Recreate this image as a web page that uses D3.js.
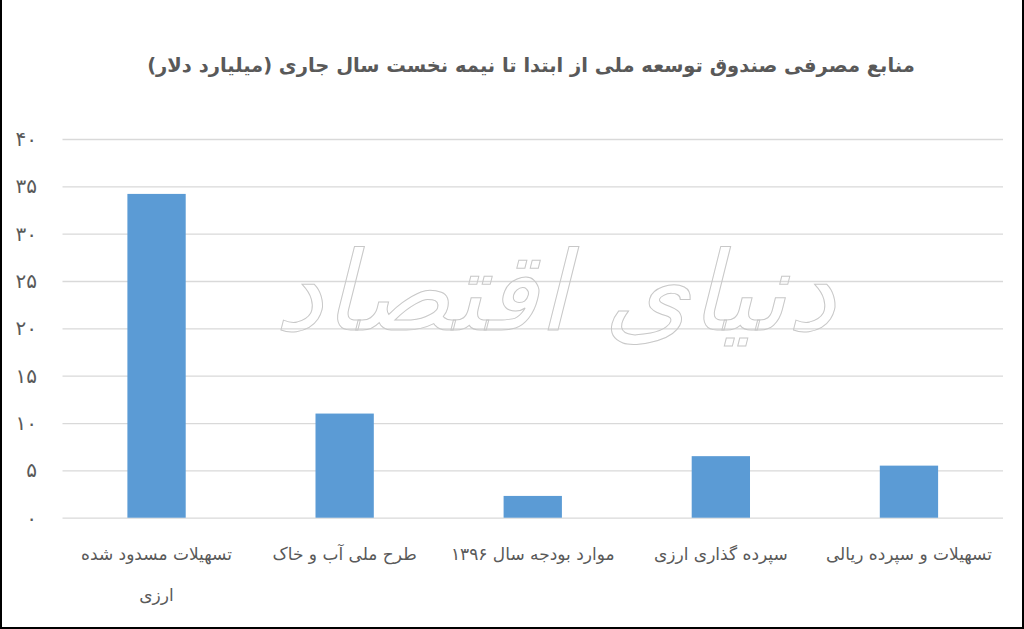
<!DOCTYPE html>
<html>
<head>
<meta charset="utf-8">
<script src="https://cdn.jsdelivr.net/npm/d3@7"></script>
<style>
  html, body { margin: 0; padding: 0; background: #fff; }
  svg { display: block; }
  text { font-family: "DejaVu Sans", "Noto Sans", sans-serif; }
</style>
</head>
<body>
<svg id="chart" width="1024" height="629"></svg>
<script>
const title = "منابع مصرفی صندوق توسعه ملی از ابتدا تا نیمه نخست سال جاری (میلیارد دلار)";
const categories = [
  "تسهیلات مسدود شده ارزی",
  "طرح ملی آب و خاک",
  "موارد بودجه سال ۱۳۹۶",
  "سپرده گذاری ارزی",
  "تسهیلات و سپرده ریالی"
];
const values = [34.2, 11, 2.3, 6.5, 5.5];
const yTicks = [0, 5, 10, 15, 20, 25, 30, 35, 40];
const yTickLabels = ["۰", "۵", "۱۰", "۱۵", "۲۰", "۲۵", "۳۰", "۳۵", "۴۰"];
const watermark = "دنیای اقتصاد";

(function () {
const svg = d3.select("#chart");
const W = 1024, H = 629;
const pL = 62.5, pR = 1003, pT = 139, pB = 517.7;

svg.append("rect").attr("width", W).attr("height", H).attr("fill", "#fff");

const x = d3.scaleBand().domain(categories).range([pL, pR]).paddingInner(0.69).paddingOuter(0.345);
const y = d3.scaleLinear().domain([0, 40]).range([pB, pT]);

// gridlines
const yAxis = d3.axisLeft(y).tickValues(yTicks).tickSize(-(pR - pL)).tickFormat((d, i) => yTickLabels[i]);
const gAxis = svg.append("g").attr("transform", `translate(${pL},0)`).call(yAxis);
gAxis.select(".domain").remove();
gAxis.selectAll(".tick line").attr("stroke", "#d9d9d9").attr("stroke-width", 1.3);
gAxis.selectAll(".tick text")
  .attr("x", 37 - pL)
  .attr("fill", "#595959")
  .attr("font-size", 20)
  .attr("text-anchor", "end");

// watermark
svg.append("text")
  .attr("x", 555).attr("y", 330)
  .attr("text-anchor", "middle")
  .attr("direction", "rtl")
  .attr("font-size", 110)
  .attr("font-style", "italic")
  .attr("fill", "none")
  .attr("stroke", "#c8c8c8")
  .attr("stroke-width", 1)
  .text(watermark);

// bars
svg.append("g").selectAll("rect").data(values).join("rect")
  .attr("x", (d, i) => x(categories[i]))
  .attr("width", x.bandwidth())
  .attr("y", d => y(d))
  .attr("height", d => y(0) - y(d))
  .attr("fill", "#5b9bd5");

// category labels
const labelG = svg.append("g");
categories.forEach((c, i) => {
  const cx = x(c) + x.bandwidth() / 2;
  const t = labelG.append("text")
    .attr("x", cx)
    .attr("y", 560)
    .attr("text-anchor", "middle")
    .attr("direction", "rtl")
    .attr("font-size", 17)
    .attr("fill", "#595959")
    .text(c);
  const maxW = x.step() - 8;
  if (t.node().getComputedTextLength() > maxW) {
    const words = c.split(" ");
    t.text(null);
    let lines = [], cur = [];
    const probe = labelG.append("text").attr("font-size", 17);
    words.forEach(w => {
      const test = cur.concat([w]).join(" ");
      probe.text(test);
      if (probe.node().getComputedTextLength() > maxW && cur.length) {
        lines.push(cur.join(" "));
        cur = [w];
      } else cur.push(w);
    });
    if (cur.length) lines.push(cur.join(" "));
    probe.remove();
    lines.forEach((ln, k) => {
      t.append("tspan").attr("x", cx).attr("dy", k === 0 ? 0 : 41).text(ln);
    });
  }
});

// title
svg.append("text")
  .attr("x", 531).attr("y", 72)
  .attr("text-anchor", "middle")
  .attr("direction", "rtl")
  .attr("font-size", 19.5)
  .attr("font-weight", "bold")
  .attr("fill", "#595959")
  .text(title);

// frame (left, right, bottom)
svg.append("path")
  .attr("d", `M1,0 V${H - 1} H${W - 1} V0`)
  .attr("fill", "none")
  .attr("stroke", "#000")
  .attr("stroke-width", 2);
})();
</script>
</body>
</html>
